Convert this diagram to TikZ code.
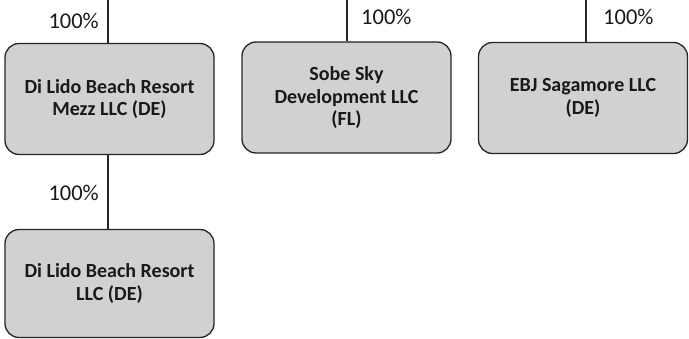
\documentclass[tikz,border=0pt]{standalone}
\usepackage{fontspec}
\setmainfont{Carlito}
\begin{document}
\begin{tikzpicture}[x=1pt,y=-1pt,
  entity/.style={draw=black!85,line width=1.3pt,fill=black!18,rounded corners=14pt,
    minimum width=209pt,minimum height=111pt,align=center,inner sep=2pt,
    font=\fontsize{20}{22.5}\selectfont\bfseries,text=black!90},
  link/.style={draw=black!85,line width=1.3pt},
  pct/.style={font=\fontsize{22.5}{25}\selectfont,text=black!90,inner sep=0pt}]
\useasboundingbox (0,0) rectangle (689,339);
\node[entity] (mezz) at (109.5,99) {Di Lido Beach Resort\\Mezz LLC (DE)};
\node[entity] (sobe) at (346.5,97.5) {Sobe Sky\\Development LLC\\(FL)};
\node[entity] (ebj) at (583,98) {EBJ Sagamore LLC\\(DE)};
\node[entity,minimum height=108pt] (dilido) at (109.5,283.5) {Di Lido Beach Resort\\LLC (DE)};
\coordinate (t1) at (108,-2);
\coordinate (t2) at (347,-2);
\coordinate (t3) at (586,-2);
\draw[link] (t1) -- (t1 |- mezz.north);
\draw[link] (t2) -- (t2 |- sobe.north);
\draw[link] (t3) -- (t3 |- ebj.north);
\draw[link] (mezz.south -| t1) -- (dilido.north -| t1);
\node[pct,anchor=east] (p1) at (99,21) {100\%};
\node[pct,anchor=west] (p2) at (361,17) {100\%};
\node[pct,anchor=west] (p3) at (603,17) {100\%};
\node[pct,anchor=east] (p4) at (99,193) {100\%};
\end{tikzpicture}
\end{document}
